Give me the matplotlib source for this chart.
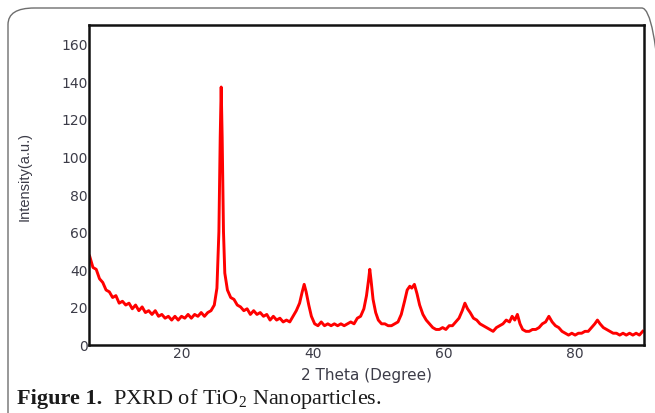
import matplotlib
matplotlib.use("Agg")
import matplotlib.pyplot as plt
from matplotlib.patches import FancyBboxPatch

# 2-theta positions (degree) and intensities
two_theta = [
    6.0, 6.5, 7.0, 7.5, 8.0, 8.5, 9.0, 9.5, 10.0, 10.5, 11.0, 11.5, 12.0, 12.5,
    13.0, 13.5, 14.0, 14.5, 15.0, 15.5, 16.0, 16.5, 17.0, 17.5, 18.0, 18.5,
    19.0, 19.5, 20.0, 20.5, 21.0, 21.5, 22.0, 22.5, 23.0, 23.5, 24.0, 24.5,
    25.0, 25.4, 25.7, 25.9, 26.05, 26.2, 26.4, 26.6, 27.0, 27.5, 28.0, 28.5,
    29.0, 29.5, 30.0, 30.5, 31.0, 31.5, 32.0, 32.5, 33.0, 33.5, 34.0, 34.5,
    35.0, 35.5, 36.0, 36.5, 37.0, 37.5, 38.0, 38.4, 38.7, 39.0, 39.4, 39.8,
    40.3, 40.8, 41.3, 41.8, 42.3, 42.8, 43.3, 43.8, 44.3, 44.8, 45.3, 45.8,
    46.3, 46.8, 47.3, 47.8, 48.2, 48.5, 48.7, 48.9, 49.2, 49.6, 50.0, 50.5,
    51.0, 51.5, 52.0, 52.5, 53.0, 53.5, 54.0, 54.4, 54.8, 55.1, 55.5, 55.9,
    56.3, 56.8, 57.3, 57.8, 58.3, 58.8, 59.3, 59.8, 60.3, 60.8, 61.3, 61.8,
    62.3, 62.8, 63.2, 63.6, 64.0, 64.5, 65.0, 65.5, 66.0, 66.5, 67.0, 67.5,
    68.0, 68.5, 69.0, 69.5, 70.0, 70.4, 70.8, 71.2, 71.6, 72.0, 72.5, 73.0,
    73.5, 74.0, 74.5, 75.0, 75.5, 76.0, 76.5, 77.0, 77.5, 78.0, 78.5, 79.0,
    79.5, 80.0, 80.5, 81.0, 81.5, 82.0, 82.5, 83.0, 83.4, 83.8, 84.3, 84.8,
    85.3, 85.8, 86.3, 86.8, 87.3, 87.8, 88.3, 88.8, 89.3, 89.8, 90.3,
]
intensity = [
    47, 41, 40, 35, 33, 29, 28, 25, 26, 22, 23, 21, 22, 19,
    21, 18, 20, 17, 18, 16, 18, 15, 16, 14, 15, 13,
    15, 13, 15, 14, 16, 14, 16, 15, 17, 15, 17, 18,
    21, 30, 60, 110, 137, 110, 60, 38, 29, 25, 24, 21,
    20, 18, 19, 16, 18, 16, 17, 15, 16, 13, 15, 13,
    14, 12, 13, 12, 15, 18, 22, 28, 32, 28, 21, 15,
    11, 10, 12, 10, 11, 10, 11, 10, 11, 10, 11, 12,
    11, 14, 15, 19, 26, 34, 40, 34, 24, 17, 13, 11,
    11, 10, 10, 11, 12, 16, 23, 29, 31, 30, 32, 27,
    21, 16, 13, 11, 9, 8, 8, 9, 8, 10, 10, 12,
    14, 18, 22, 19, 17, 14, 13, 11, 10, 9, 8, 7,
    9, 10, 11, 13, 12, 15, 13, 16, 11, 8, 7, 7,
    8, 8, 9, 11, 12, 15, 12, 10, 9, 7, 6, 5,
    6, 5, 6, 6, 7, 7, 9, 11, 13, 11, 9, 8,
    7, 6, 6, 5, 6, 5, 6, 5, 6, 5, 7,
]

x_ticks = [20, 40, 60, 80]
y_ticks = [0, 20, 40, 60, 80, 100, 120, 140, 160]

label_color = "#3c3c48"

plt.rcParams["mathtext.fontset"] = "custom"
plt.rcParams["mathtext.rm"] = "Liberation Serif"

fig = plt.figure(figsize=(6.55, 4.14), dpi=100)

# rounded frame around the figure panel
frame = FancyBboxPatch((8 / 655, -20 / 414), 660 / 655, 425 / 414,
                       boxstyle="round,pad=0,rounding_size=0.04",
                       transform=fig.transFigure, facecolor="none",
                       edgecolor="#6e6e6e", linewidth=1.0, clip_on=False)
fig.add_artist(frame)

ax = fig.add_axes([89 / 655, (414 - 345.5) / 414, 555 / 655, 319.5 / 414])
ax.plot(two_theta, intensity, color="#ff0000", linewidth=2.1)

ax.set_xlim(5.9, 90.5)
ax.set_ylim(0, 170)
ax.set_xticks(x_ticks)
ax.set_yticks(y_ticks)
ax.tick_params(length=0, pad=1, labelsize=10, labelcolor=label_color)
for lbl in ax.get_xticklabels() + ax.get_yticklabels():
    lbl.set_family("DejaVu Sans")
for sp in ax.spines.values():
    sp.set_linewidth(1.8)
    sp.set_color("#111111")

ax.set_xlabel("2 Theta (Degree)", family="DejaVu Sans", fontsize=11,
              color=label_color, labelpad=5)
ax.set_ylabel("Intensity(a.u.)", family="Liberation Sans", fontsize=10.5,
              color=label_color)
ax.yaxis.set_label_coords(-0.103, 0.53)

t1 = fig.text(17 / 655, 10 / 414, "Figure 1.", family="Liberation Serif",
              fontweight="bold", fontsize=16, color="#1a1a1a")
fig.canvas.draw()
box = t1.get_window_extent()
fig.text((box.x1 + 11) / (fig.dpi * 6.55), 10 / 414,
         r"PXRD of TiO$_2$ Nanoparticles.", family="Liberation Serif",
         fontsize=16, color="#1a1a1a")

fig.savefig("out.png", dpi=100)
